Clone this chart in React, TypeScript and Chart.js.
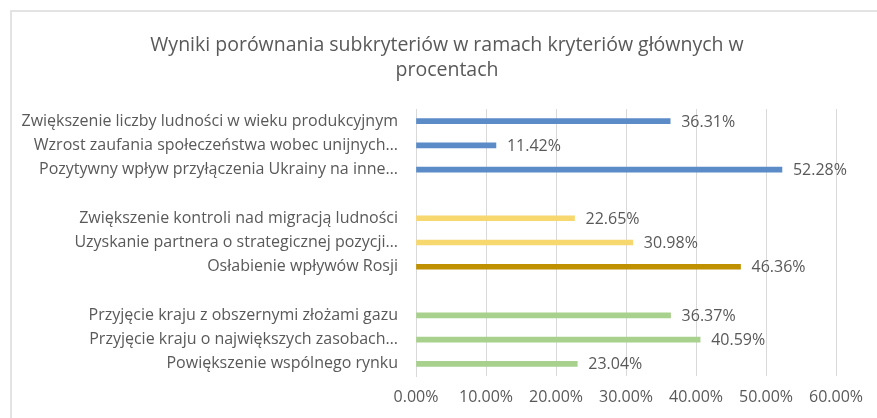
import React, { useEffect, useRef } from "react";
import { Chart, registerables } from "chart.js";

Chart.register(...registerables);

const TITLE_LINES = [
  "Wyniki porównania subkryteriów w ramach kryteriów głównych w",
  "procentach",
];

const categories = [
  "Zwiększenie liczby ludności w wieku produkcyjnym",
  "Wzrost zaufania społeczeństwa wobec unijnych…",
  "Pozytywny wpływ przyłączenia Ukrainy na inne…",
  "",
  "Zwiększenie kontroli nad migracją ludności",
  "Uzyskanie partnera o strategicznej pozycji…",
  "Osłabienie wpływów Rosji",
  "",
  "Przyjęcie kraju z obszernymi złożami gazu",
  "Przyjęcie kraju o największych zasobach…",
  "Powiększenie wspólnego rynku",
];

const values: (number | null)[] = [
  36.31, 11.42, 52.28, null, 22.65, 30.98, 46.36, null, 36.37, 40.59, 23.04,
];

const barColors = [
  "#5b8cc8", "#5b8cc8", "#5b8cc8", "#ffffff",
  "#f6d86f", "#f6d86f", "#bf9000", "#ffffff",
  "#a9d18e", "#a9d18e", "#a9d18e",
];

const xTickMax = 60;
const xTickStep = 10;

const FONT = "'Open Sans', 'Noto Sans', sans-serif";
const TEXT = "#595959";

const fmt = (v: number) => v.toFixed(2) + "%";

const frame = {
  id: "frame",
  beforeDraw(chart: any) {
    const { ctx, width, height } = chart;
    ctx.save();
    ctx.fillStyle = "#ffffff";
    ctx.fillRect(0, 0, width, height);
    ctx.strokeStyle = "#e3e3e3";
    ctx.lineWidth = 2;
    ctx.strokeRect(11, 11, width, height);
    ctx.fillStyle = TEXT;
    ctx.font = `19.5px ${FONT}`;
    ctx.textAlign = "center";
    ctx.textBaseline = "middle";
    ctx.fillText(TITLE_LINES[0], 447, 45);
    ctx.fillText(TITLE_LINES[1], 447, 70);
    ctx.restore();
  },
};

const valueLabels = {
  id: "valueLabels",
  afterDatasetsDraw(chart: any) {
    const { ctx } = chart;
    const meta = chart.getDatasetMeta(0);
    ctx.save();
    ctx.font = `16px ${FONT}`;
    ctx.fillStyle = TEXT;
    ctx.textAlign = "left";
    ctx.textBaseline = "middle";
    meta.data.forEach((bar: any, i: number) => {
      const v = values[i];
      if (v == null) return;
      ctx.fillText(fmt(v), bar.x + 11, bar.y + 1);
    });
    ctx.restore();
  },
};

export default function App() {
  const ref = useRef<HTMLCanvasElement | null>(null);
  useEffect(() => {
    if (!ref.current) return;
    const chart = new Chart(ref.current, {
      type: "bar",
      data: {
        labels: categories,
        datasets: [
          {
            data: values as any,
            backgroundColor: barColors,
            barThickness: 5,
          },
        ],
      },
      options: {
        indexAxis: "y",
        animation: false,
        responsive: false,
        maintainAspectRatio: false,
        layout: { padding: { left: 0, right: 41, top: 109, bottom: 0 } },
        plugins: {
          legend: { display: false },
          tooltip: { enabled: false },
          title: { display: false },
        },
        scales: {
          x: {
            min: 0,
            max: xTickMax,
            ticks: {
              stepSize: xTickStep,
              color: TEXT,
              font: { family: FONT, size: 16 },
              padding: 12,
              callback: (v: any) => fmt(Number(v)),
            },
            grid: { color: "#d9d9d9", drawTicks: false },
            border: { display: false },
            afterFit: (scale: any) => {
              scale.height = 42;
            },
          },
          y: {
            ticks: {
              color: TEXT,
              font: { family: FONT, size: 16 },
              padding: 18,
              autoSkip: false,
            },
            grid: { display: false, drawTicks: false },
            border: { display: true, color: "#d9d9d9" },
            afterFit: (scale: any) => {
              scale.width = 416;
            },
          },
        },
      },
      plugins: [frame, valueLabels],
    });
    return () => chart.destroy();
  }, []);
  return (
    <div style={{ position: "fixed", left: 0, top: 0, width: 877, height: 418, background: "#fff" }}>
      <canvas ref={ref} width={877} height={418} style={{ display: "block" }} />
    </div>
  );
}
